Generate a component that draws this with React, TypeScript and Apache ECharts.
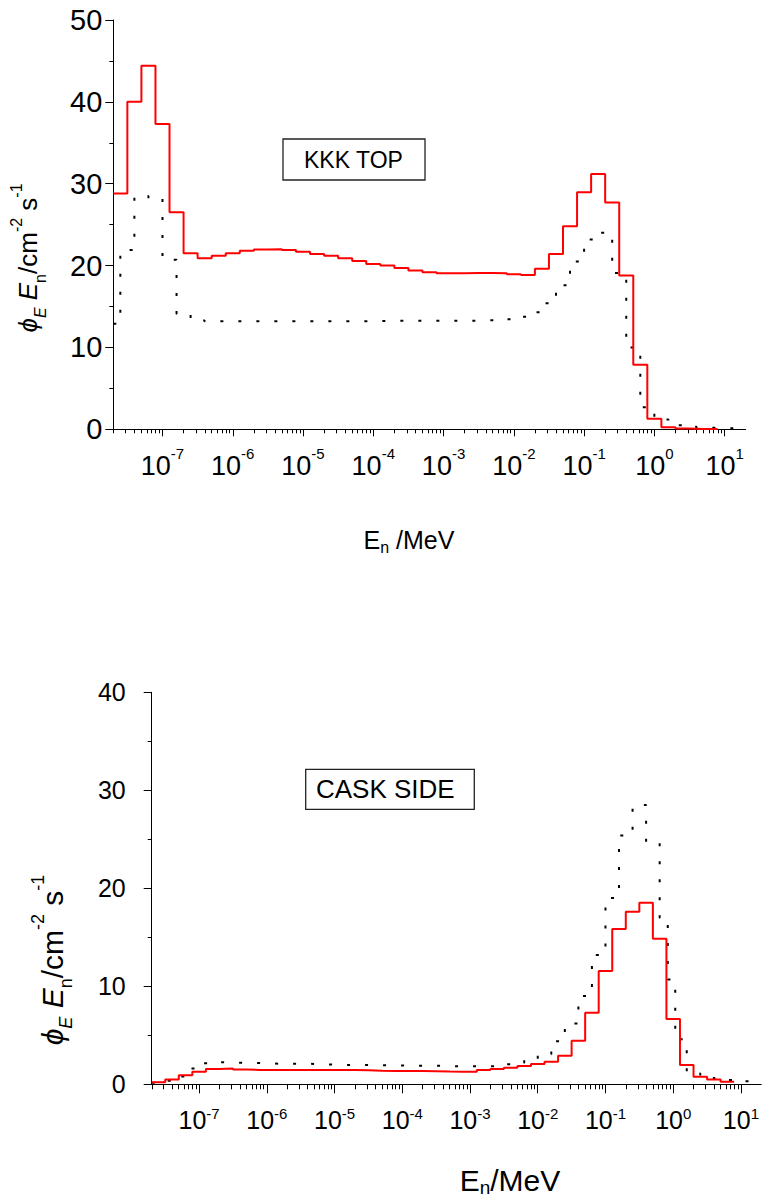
import React, { useEffect, useRef } from "react";
import * as echarts from "echarts";

// ---------- data (x in log10(E / MeV)) ----------
const xMinLog = -7.7;
const xMaxLog = 1.3;
const binStartLog = -7.7; // red histograms: 5 bins per decade from 2e-8 MeV
const binWidthLog = 0.2;

const decadeExponents = [-7, -6, -5, -4, -3, -2, -1, 0, 1];
const minorMultipliers = [2, 3, 4, 5, 6, 7, 8, 9];

const topYTicks = { min: 0, max: 50, step: 10 };
const bottomYTicks = { min: 0, max: 40, step: 10 };

// KKK TOP – red (solid) histogram
const topRed = [
  28.8, 40.0, 44.4, 37.3, 26.5, 21.5, 20.9, 21.2, 21.5, 21.8, 21.95, 22.0, 21.9,
  21.7, 21.4, 21.2, 20.9, 20.55, 20.2, 20.0, 19.7, 19.4, 19.2, 19.05, 19.05,
  19.1, 19.1, 19.05, 18.95, 18.85, 19.6, 21.4, 24.8, 28.95, 31.2, 27.7, 18.8,
  7.9, 1.3, 0.25, 0.1, 0.05, 0.03,
];
// KKK TOP – dotted histogram (decade-aligned bins)
const topDotEdges = [
  -7.7, -7.6, -7.4, -7.2, -7.0, -6.8, -6.6, -6.4, -6.2, -6.0, -5.8, -5.6, -5.4,
  -5.2, -5.0, -4.8, -4.6, -4.4, -4.2, -4.0, -3.8, -3.6, -3.4, -3.2, -3.0, -2.8,
  -2.6, -2.4, -2.2, -2.0, -1.8, -1.6, -1.4, -1.2, -1.0, -0.8, -0.6, -0.4, -0.2,
  0.0, 0.2, 0.4, 0.6, 0.8, 1.0, 1.2,
];
const topDotValues = [
  12.9, 21.9, 28.5, 28.2, 20.7, 14.1, 13.3, 13.2, 13.2, 13.2, 13.2, 13.2, 13.2,
  13.2, 13.2, 13.2, 13.2, 13.2, 13.2, 13.25, 13.25, 13.25, 13.25, 13.25, 13.25,
  13.25, 13.3, 13.35, 13.45, 13.75, 14.3, 15.4, 17.6, 20.5, 23.2, 24.0, 19.1,
  10.0, 2.7, 1.2, 0.5, 0.3, 0.2, 0.15, 0.1,
];

// CASK SIDE – red (solid) histogram
const bottomRed = [
  0.2, 0.5, 0.92, 1.29, 1.56, 1.6, 1.5, 1.46, 1.46, 1.46, 1.46, 1.46, 1.46, 1.46,
  1.46, 1.44, 1.38, 1.36, 1.36, 1.36, 1.34, 1.3, 1.29, 1.29, 1.46, 1.56, 1.7,
  1.87, 2.07, 2.3, 2.92, 4.45, 7.31, 11.56, 15.85, 17.6, 18.53, 14.86, 6.66,
  1.97, 0.78, 0.5, 0.27,
];
// CASK SIDE – dotted histogram
const bottomDotEdges = [
  -7.7, -7.6, -7.4, -7.2, -7.0, -6.8, -6.6, -6.4, -6.2, -6.0, -5.8, -5.6, -5.4,
  -5.2, -5.0, -4.8, -4.6, -4.4, -4.2, -4.0, -3.8, -3.6, -3.4, -3.2, -3.0, -2.8,
  -2.6, -2.4, -2.2, -2.0, -1.8, -1.6, -1.4, -1.2, -1.0, -0.8, -0.6, -0.4, -0.2,
  -0.08, 0.03, 0.2, 0.4, 0.6, 0.8, 1.0, 1.15,
];
const bottomDotValues = [
  0.15, 0.35, 0.8, 1.6, 2.15, 2.25, 2.2, 2.2, 2.15, 2.1, 2.1, 2.1, 2.05, 2.0,
  1.98, 1.97, 1.95, 1.93, 1.92, 1.9, 1.9, 1.88, 1.85, 1.83, 1.85, 1.85, 2.04,
  2.2, 2.48, 3.06, 4.4, 6.2, 9.0, 13.2, 19.0, 25.4, 28.5, 24.7, 17.0, 10.7, 4.6,
  1.1, 0.8, 0.6, 0.45, 0.3,
];

const FONT = "'Liberation Sans', Arial, Helvetica, sans-serif";

function stepFromEdges(edges: number[], values: number[]) {
  const pts: number[][] = values.map((v, i) => [edges[i], v]);
  pts.push([edges[values.length], values[values.length - 1]]);
  return pts;
}
function regularEdges(n: number) {
  const e: number[] = [];
  for (let i = 0; i <= n; i++) e.push(+(binStartLog + i * binWidthLog).toFixed(4));
  return e;
}
function minorTickValues() {
  const out: number[] = [];
  for (let d = -8; d <= 1; d++) {
    for (const m of minorMultipliers) {
      const v = d + Math.log10(m);
      if (v >= xMinLog - 0.01 && v <= xMaxLog + 0.01) out.push(v);
    }
  }
  return out;
}

function majorXAxis(gridIndex: number, p: any) {
  return {
    type: "value",
    gridIndex,
    position: "bottom",
    min: xMinLog,
    max: xMaxLog,
    axisLine: { show: true, onZero: false, lineStyle: { color: "#000", width: 1 } },
    axisTick: {
      show: true,
      inside: false,
      length: p.tickLen,
      customValues: decadeExponents,
      lineStyle: { color: "#000", width: 1 },
    },
    axisLabel: {
      show: true,
      customValues: decadeExponents,
      margin: p.margin,
      color: "#000",
      fontFamily: FONT,
      formatter: (v: number) => `{b|10}{s|${Math.round(v)}}`,
      rich: {
        b: { fontSize: p.fontSize, lineHeight: p.lineHeight, fontFamily: FONT, color: "#000" },
        s: { fontSize: p.supSize, lineHeight: 16, verticalAlign: "top", fontFamily: FONT, color: "#000" },
      },
    },
    splitLine: { show: false },
  };
}
function minorXAxis(gridIndex: number, tickLen: number) {
  return {
    type: "value",
    gridIndex,
    position: "bottom",
    min: xMinLog,
    max: xMaxLog,
    axisLine: { show: false, onZero: false },
    axisTick: {
      show: true,
      inside: false,
      length: tickLen,
      customValues: minorTickValues(),
      lineStyle: { color: "#000", width: 1 },
    },
    axisLabel: { show: false },
    splitLine: { show: false },
  };
}
function yAxisCfg(gridIndex: number, t: any, fontSize: number, margin: number) {
  return {
    type: "value",
    gridIndex,
    position: "left",
    min: t.min,
    max: t.max,
    interval: t.step,
    axisLine: { show: true, onZero: false, lineStyle: { color: "#000", width: 1 } },
    axisTick: { show: true, inside: false, length: 8, lineStyle: { color: "#000" } },
    minorTick: { show: true, splitNumber: 2, length: 4, lineStyle: { color: "#000" } },
    axisLabel: { color: "#000", fontSize, fontFamily: FONT, margin },
    splitLine: { show: false },
    minorSplitLine: { show: false },
  };
}
function dottedSeries(xi: number, yi: number, data: number[][]) {
  return {
    type: "line",
    xAxisIndex: xi,
    yAxisIndex: yi,
    data,
    step: "end",
    symbol: "none",
    showSymbol: false,
    silent: true,
    lineStyle: { color: "#000", width: 2, type: [3, 15] },
    z: 2,
  };
}
function redSeries(xi: number, yi: number, data: number[][]) {
  return {
    type: "line",
    xAxisIndex: xi,
    yAxisIndex: yi,
    data,
    step: "end",
    symbol: "none",
    showSymbol: false,
    silent: true,
    lineStyle: { color: "#ff0000", width: 2 },
    z: 3,
  };
}

function yTitle(x: number, y: number, base: number, small: number, lh: number, supLh: number, subLh: number) {
  return {
    type: "text",
    x,
    y,
    rotation: Math.PI / 2,
    style: {
      text: "{p|ϕ}{si|E}{r| }{i|E}{sb|n}{r|/cm}{sp|-2}{r| s}{sp|-1}",
      align: "center",
      verticalAlign: "middle",
      fill: "#000",
      rich: {
        p: { fontSize: base, fontStyle: "italic", fontFamily: FONT, lineHeight: lh, fill: "#000" },
        i: { fontSize: base, fontStyle: "italic", fontFamily: FONT, lineHeight: lh, fill: "#000" },
        r: { fontSize: base, fontFamily: FONT, lineHeight: lh, fill: "#000" },
        si: { fontSize: small, fontStyle: "italic", fontFamily: FONT, lineHeight: subLh, verticalAlign: "bottom", fill: "#000" },
        sb: { fontSize: small, fontFamily: FONT, lineHeight: subLh, verticalAlign: "bottom", fill: "#000" },
        sp: { fontSize: small, fontFamily: FONT, lineHeight: supLh, verticalAlign: "top", fill: "#000" },
      },
    },
  };
}
function xTitle(x: number, y: number, text: string, base: number, small: number, lh: number, subLh: number) {
  return {
    type: "text",
    x,
    y,
    style: {
      text,
      align: "center",
      verticalAlign: "middle",
      fill: "#000",
      rich: {
        e: { fontSize: base, fontFamily: FONT, lineHeight: lh, fill: "#000" },
        n: { fontSize: small, fontFamily: FONT, lineHeight: subLh, verticalAlign: "bottom", fill: "#000" },
      },
    },
  };
}
function labelBox(x: number, y: number, w: number, h: number, tx: number, text: string, fs: number) {
  return [
    {
      type: "rect",
      shape: { x, y, width: w, height: h },
      style: { fill: "#fff", stroke: "#222", lineWidth: 1.3 },
      z: 10,
    },
    {
      type: "text",
      x: tx,
      y: y + h / 2,
      style: { text, fontSize: fs, fontFamily: FONT, fill: "#000", align: "left", verticalAlign: "middle" },
      z: 11,
    },
  ];
}

export default function App() {
  const ref = useRef<HTMLDivElement>(null);
  useEffect(() => {
    if (!ref.current) return;
    const chart = echarts.init(ref.current, undefined, { renderer: "svg" });
    const option: any = {
      animation: false,
      backgroundColor: "#fff",
      grid: [
        { left: 113.3, top: 20, width: 632.4, height: 409.3, containLabel: false },
        { left: 151.7, top: 692.3, width: 612, height: 392, containLabel: false },
      ],
      xAxis: [
        majorXAxis(0, { tickLen: 7, margin: 17, fontSize: 27, supSize: 15, lineHeight: 40 }),
        minorXAxis(0, 4),
        majorXAxis(1, { tickLen: 9, margin: 22, fontSize: 25, supSize: 15, lineHeight: 28 }),
        minorXAxis(1, 5),
      ],
      yAxis: [yAxisCfg(0, topYTicks, 29, 11), yAxisCfg(1, bottomYTicks, 25, 26)],
      series: [
        dottedSeries(0, 0, stepFromEdges(topDotEdges, topDotValues)),
        redSeries(0, 0, stepFromEdges(regularEdges(topRed.length), topRed)),
        dottedSeries(2, 1, stepFromEdges(bottomDotEdges, bottomDotValues)),
        redSeries(2, 1, stepFromEdges(regularEdges(bottomRed.length), bottomRed)),
      ],
      graphic: [
        yTitle(28, 258, 26, 16, 40, 14, 26),
        yTitle(52, 960, 30, 18, 46, 16, 30),
        xTitle(409, 540, "{e|E}{n|n}{e| /MeV}", 25, 16, 30, 14),
        xTitle(510, 1180, "{e|E}{n|n}{e|/MeV}", 30, 19, 34, 16),
        ...labelBox(283, 139, 142, 41, 304, "KKK TOP", 23),
        ...labelBox(305.7, 769.3, 168.6, 40, 316, "CASK SIDE", 26),
      ],
    };
    chart.setOption(option);
    return () => chart.dispose();
  }, []);
  return (
    <div
      ref={ref}
      style={{ position: "absolute", left: 0, top: 0, width: 762, height: 1201, background: "#fff" }}
    />
  );
}
